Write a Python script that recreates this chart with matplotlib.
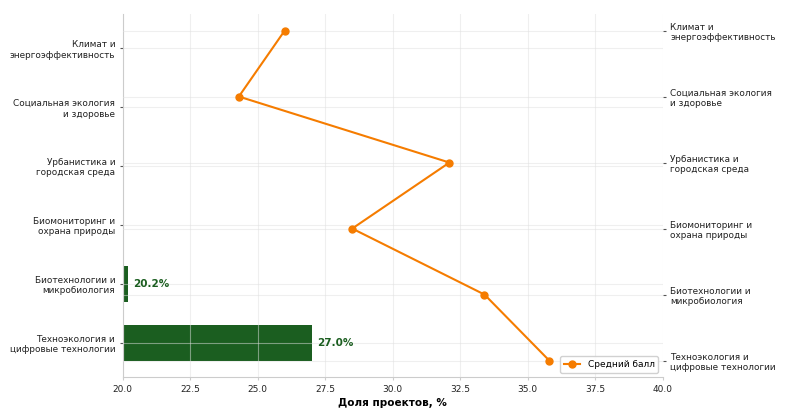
import matplotlib
matplotlib.use('Agg')
import matplotlib.pyplot as plt
import numpy as np

# Data (bottom -> top)
categories = ['Техноэкология и\nцифровые технологии',
              'Биотехнологии и\nмикробиология',
              'Биомониторинг и\nохрана природы',
              'Урбанистика и\nгородская среда',
              'Социальная экология\nи здоровье',
              'Климат и\nэнергоэффективность']
share = [27.0, 20.2, 15.7, 13.5, 12.4, 11.2]
avg_score = [35.8, 33.4, 28.5, 32.1, 24.3, 26.0]

bar_color = '#1b5e20'
line_color = '#f57c00'
spine_color = '#cccccc'
text_color = '#222222'

plt.rcParams['font.family'] = ['DejaVu Sans']

fig = plt.figure(figsize=(7.87, 4.13), dpi=100)
ax = fig.add_axes([0.156, 0.087, 0.686, 0.879])

y = np.arange(len(categories))
ax.barh(y, share, height=0.6, color=bar_color)
for yi, v in zip(y, share):
    ax.text(v + 0.2, yi, f'{v:.1f}%', va='center', ha='left', fontsize=7.5,
            fontweight='bold', color=bar_color, clip_on=True)

ax.set_xlim(20, 40)
ax.set_xticks(np.arange(20, 40.1, 2.5))
ax.set_yticks(y)
ax.set_yticklabels(categories, fontsize=6.4, color=text_color)
ax.tick_params(axis='x', labelsize=6.5, length=2, color=spine_color, labelcolor=text_color)
ax.tick_params(axis='y', length=2, color='#555555')
ax.set_xlabel('Доля проектов, %', fontsize=7.5, fontweight='bold', labelpad=3)
ax.grid(True, color='#e0e0e0', alpha=0.5, linewidth=0.8)

for s in ['top', 'right']:
    ax.spines[s].set_visible(False)
for s in ['left', 'bottom']:
    ax.spines[s].set_color(spine_color)

ax2 = ax.twinx()
ax2.plot(avg_score, y, color=line_color, marker='o', markersize=5,
         linewidth=1.5, label='Средний балл')
ax2.set_yticks(y)
ax2.set_yticklabels(categories, fontsize=6.4, ha='left', color=text_color)
ax2.tick_params(axis='y', length=2, color='#555555')
ax2.grid(True, axis='y', color='#e0e0e0', alpha=0.5, linewidth=0.8)
for s in ax2.spines.values():
    s.set_visible(False)
ax2.legend(loc='lower right', fontsize=6.5, handlelength=1.8,
           borderpad=0.4, framealpha=0.9)

fig.savefig('out.png', dpi=100)
